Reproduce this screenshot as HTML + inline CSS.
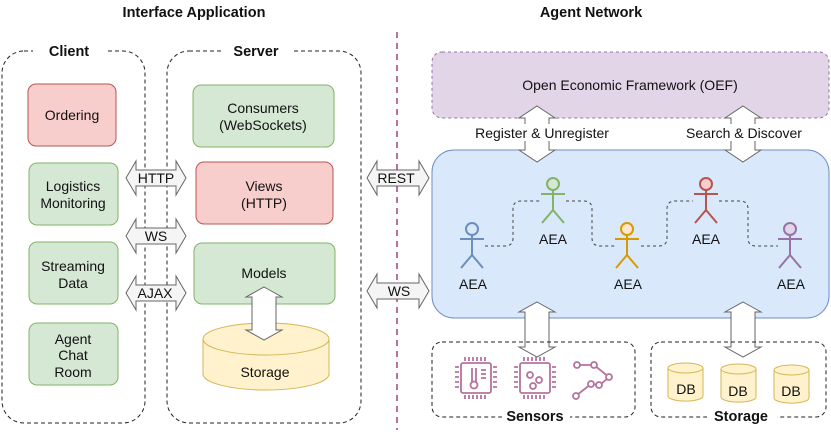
<!DOCTYPE html>
<html><head><meta charset="utf-8"><style>
html,body{margin:0;padding:0;background:#fff}
svg{display:block}
text{font-family:"Liberation Sans",sans-serif;font-size:14px;fill:#111}
.b{font-weight:bold;font-size:14.5px}
</style></head><body>
<svg width="831" height="436" viewBox="0 0 831 436" xmlns="http://www.w3.org/2000/svg">
<text x="194" y="17" text-anchor="middle" class="b">Interface Application</text>
<text x="591" y="17" text-anchor="middle" class="b">Agent Network</text>
<line x1="397" y1="32" x2="397" y2="430" stroke="#b5739d" stroke-width="2" stroke-dasharray="6,5"/>

<rect x="2" y="51" width="143" height="372" rx="22" fill="none" stroke="#222" stroke-dasharray="4,3"/>
<rect x="33" y="42" width="72" height="16" fill="#fff"/>
<text x="69" y="56" text-anchor="middle" class="b">Client</text>
<rect x="167" y="51" width="194" height="372" rx="22" fill="none" stroke="#222" stroke-dasharray="4,3"/>
<rect x="222" y="42" width="70" height="16" fill="#fff"/>
<text x="256" y="56" text-anchor="middle" class="b">Server</text>

<rect x="28" y="84" width="88" height="62" rx="8" fill="#f8cecc" stroke="#b85450"/>
<text x="72" y="120" text-anchor="middle">Ordering</text>
<rect x="29" y="163" width="89" height="62" rx="8" fill="#d5e8d4" stroke="#82b366"/>
<text x="73" y="191" text-anchor="middle">Logistics</text><text x="73" y="208" text-anchor="middle">Monitoring</text>
<rect x="29" y="242" width="89" height="62" rx="8" fill="#d5e8d4" stroke="#82b366"/>
<text x="73" y="271" text-anchor="middle">Streaming</text><text x="73" y="288" text-anchor="middle">Data</text>
<rect x="29" y="323" width="89" height="62" rx="8" fill="#d5e8d4" stroke="#82b366"/>
<text x="73" y="344" text-anchor="middle">Agent</text><text x="73" y="360" text-anchor="middle">Chat</text><text x="73" y="377" text-anchor="middle">Room</text>

<rect x="193" y="85" width="141" height="62" rx="8" fill="#d5e8d4" stroke="#82b366"/>
<text x="263" y="113" text-anchor="middle">Consumers</text><text x="263" y="130" text-anchor="middle">(WebSockets)</text>
<rect x="196" y="162" width="137" height="62" rx="8" fill="#f8cecc" stroke="#b85450"/>
<text x="264" y="191" text-anchor="middle">Views</text><text x="264" y="208" text-anchor="middle">(HTTP)</text>
<rect x="194" y="243" width="141" height="61" rx="8" fill="#d5e8d4" stroke="#82b366"/>
<text x="264" y="278" text-anchor="middle">Models</text>
<path d="M203,339 L203,374 A63,16 0 0 0 329,374 L329,339" fill="#fff2cc" stroke="#d6b656"/>
<ellipse cx="266" cy="339" rx="63" ry="16" fill="#fff2cc" stroke="#d6b656"/>
<text x="265" y="377" text-anchor="middle">Storage</text>

<g fill="#f5f5f5" stroke="#666">
<path d="M126,178 L136,161 L136,170 L176,170 L176,161 L186,178 L176,195 L176,186 L136,186 L136,195 Z"/>
<path d="M126,236 L136,219 L136,228 L176,228 L176,219 L186,236 L176,253 L176,244 L136,244 L136,253 Z"/>
<path d="M126,293 L136,276 L136,285 L176,285 L176,276 L186,293 L176,310 L176,301 L136,301 L136,310 Z"/>
<path d="M367,178 L377,161 L377,170 L419,170 L419,161 L429,178 L419,195 L419,186 L377,186 L377,195 Z"/>
<path d="M367,291 L377,274 L377,283 L419,283 L419,274 L429,291 L419,308 L419,299 L377,299 L377,308 Z"/>
</g>
<text x="156" y="183" text-anchor="middle">HTTP</text>
<text x="156" y="241" text-anchor="middle">WS</text>
<text x="155" y="298" text-anchor="middle">AJAX</text>
<text x="396" y="183" text-anchor="middle">REST</text>
<text x="399" y="296" text-anchor="middle">WS</text>

<path d="M264,287 L282,297 L276,297 L276,330 L282,330 L264,340 L246,330 L252,330 L252,297 L246,297 Z" fill="#fff" stroke="#666"/>

<rect x="432" y="52" width="397" height="66" rx="10" fill="#e1d5e7" stroke="#9673a6" stroke-dasharray="3,3"/>
<text x="630" y="90" text-anchor="middle" font-size="14.5">Open Economic Framework (OEF)</text>

<rect x="432" y="150" width="397" height="168" rx="22" fill="#dae8fc" stroke="#6c8ebf"/>

<g fill="#fff" stroke="#666">
<path d="M537,106 L555,118 L549,118 L549,150 L555,150 L537,162 L519,150 L525,150 L525,118 L519,118 Z"/>
<path d="M743,106 L761,118 L755,118 L755,150 L761,150 L743,162 L725,150 L731,150 L731,118 L725,118 Z"/>
<path d="M537,302 L555,312 L549,312 L549,347 L555,347 L537,357 L519,347 L525,347 L525,312 L519,312 Z"/>
<path d="M743,302 L761,312 L755,312 L755,347 L761,347 L743,357 L725,347 L731,347 L731,312 L725,312 Z"/>
</g>
<rect x="475" y="124" width="137" height="17" fill="#fff"/>
<text x="542" y="138" text-anchor="middle">Register &amp; Unregister</text>
<rect x="690" y="124" width="110" height="17" fill="#fff"/>
<text x="744" y="138" text-anchor="middle">Search &amp; Discover</text>

<g fill="none" stroke="#444" stroke-dasharray="3,3">
<path d="M485,246 L505,246 Q513,246 513,238 L513,209 Q513,201 521,201 L540,201"/>
<path d="M566,201 L584,201 Q592,201 592,209 L592,238 Q592,246 600,246 L615,246"/>
<path d="M641,246 L659,246 Q667,246 667,238 L667,209 Q667,201 675,201 L693,201"/>
<path d="M719,201 L740,201 Q748,201 748,209 L748,238 Q748,246 756,246 L778,246"/>
</g>

<g fill="none" stroke-width="2">
<g stroke="#6c8ebf"><circle cx="472" cy="229" r="6" fill="#dae8fc"/><path d="M472,235 V255 M460,239 H484 M472,255 L461,268 M472,255 L483,268"/></g>
<g stroke="#82b366"><circle cx="553" cy="184" r="6" fill="#d5e8d4"/><path d="M553,190 V210 M541,194 H565 M553,210 L542,223 M553,210 L564,223"/></g>
<g stroke="#d79b00"><circle cx="627" cy="229" r="6" fill="#ffe6cc"/><path d="M627,235 V255 M615,239 H639 M627,255 L616,268 M627,255 L638,268"/></g>
<g stroke="#b85450"><circle cx="706" cy="184" r="6" fill="#f8cecc"/><path d="M706,190 V210 M694,194 H718 M706,210 L695,223 M706,210 L717,223"/></g>
<g stroke="#9673a6"><circle cx="790" cy="229" r="6" fill="#e1d5e7"/><path d="M790,235 V255 M778,239 H802 M790,255 L779,268 M790,255 L801,268"/></g>
</g>
<text x="473" y="289" text-anchor="middle">AEA</text>
<text x="553" y="244" text-anchor="middle">AEA</text>
<text x="628" y="289" text-anchor="middle">AEA</text>
<text x="706" y="244" text-anchor="middle">AEA</text>
<text x="791" y="289" text-anchor="middle">AEA</text>

<rect x="432" y="342" width="203" height="75" rx="10" fill="none" stroke="#222" stroke-dasharray="4,3"/>
<rect x="502" y="409" width="68" height="16" fill="#fff"/>
<text x="535" y="421" text-anchor="middle" class="b">Sensors</text>
<g fill="none" stroke="#b5739d" stroke-width="1.8">
<rect x="461" y="363" width="30" height="30" rx="2"/>
<path d="M465,361 V357 M469,361 V357 M473,361 V357 M477,361 V357 M481,361 V357 M485,361 V357 M465,395 V399 M469,395 V399 M473,395 V399 M477,395 V399 M481,395 V399 M485,395 V399 M459,367 H455 M459,372 H455 M459,377 H455 M459,382 H455 M459,387 H455 M493,367 H497 M493,372 H497 M493,377 H497 M493,382 H497 M493,387 H497"/>
<path d="M472,368 V382 M476,368 V382 M481,370 H486 M481,374 H486 M481,378 H486"/><circle cx="474" cy="385" r="3.5"/>
<rect x="520" y="363" width="30" height="30" rx="2"/>
<path d="M524,361 V357 M528,361 V357 M532,361 V357 M536,361 V357 M540,361 V357 M544,361 V357 M524,395 V399 M528,395 V399 M532,395 V399 M536,395 V399 M540,395 V399 M544,395 V399 M518,367 H514 M518,372 H514 M518,377 H514 M518,382 H514 M518,387 H514 M552,367 H556 M552,372 H556 M552,377 H556 M552,382 H556 M552,387 H556"/>
<circle cx="530" cy="375" r="3"/><circle cx="539" cy="380" r="3"/><circle cx="533" cy="386" r="3"/>
<path d="M578,365 H594 L609,377 L600,385 L591,384 L577,395"/>
<circle cx="577" cy="365" r="3" fill="#fff"/><circle cx="594" cy="365" r="3" fill="#fff"/><circle cx="609" cy="377" r="3" fill="#fff"/><circle cx="599" cy="385" r="3" fill="#fff"/><circle cx="591" cy="384" r="3" fill="#fff"/><circle cx="576" cy="396" r="3" fill="#fff"/>
</g>

<rect x="651" y="342" width="175" height="75" rx="10" fill="none" stroke="#222" stroke-dasharray="4,3"/>
<rect x="707" y="409" width="70" height="16" fill="#fff"/>
<text x="741" y="421" text-anchor="middle" class="b">Storage</text>
<g fill="#fff2cc" stroke="#d6b656">
<path d="M668,368 V396 A17,5 0 0 0 703,396 V368"/><ellipse cx="685.5" cy="368" rx="17.5" ry="5"/>
<path d="M721,369 V397 A17,5 0 0 0 756,397 V369"/><ellipse cx="738.5" cy="369" rx="17.5" ry="5"/>
<path d="M774,370 V398 A17,5 0 0 0 809,398 V370"/><ellipse cx="791.5" cy="370" rx="17.5" ry="5"/>
</g>
<text x="686" y="394" text-anchor="middle">DB</text>
<text x="738" y="396" text-anchor="middle">DB</text>
<text x="791" y="396" text-anchor="middle">DB</text>
</svg>
</body></html>
